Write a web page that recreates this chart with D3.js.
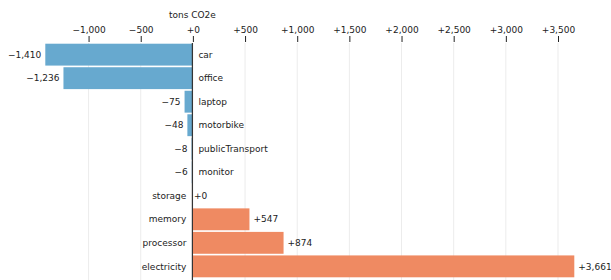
<!DOCTYPE html>
<html>
<head>
<meta charset="utf-8">
<script src="https://cdn.jsdelivr.net/npm/d3@7"></script>
<style>
  body { margin: 0; background: #fff; }
  svg { font-family: "DejaVu Sans", sans-serif; font-size: 9px; }
</style>
</head>
<body>
<div id="chart"></div>
<script>
// Données
const categories = ["car", "office", "laptop", "motorbike", "publicTransport", "monitor", "storage", "memory", "processor", "electricity"];
const values = [-1410, -1236, -75, -48, -8, -6, 0, 547, 874, 3661];
const tickValues = [-1000, -500, 0, 500, 1000, 1500, 2000, 2500, 3000, 3500];

const rows = categories.map((c, i) => ({ name: c, value: values[i] }));

const width = 611, height = 280;

const x = d3.scaleLinear()
    .domain([d3.min(values), d3.max(values)])
    .range([45.3, 574.3]);

const y = d3.scaleBand()
    .domain(categories)
    .range([43, 278])
    .paddingInner(0.07)
    .paddingOuter(0.03);

const fmt = d3.format("+,d");

const svg = d3.select("#chart")
    .append("svg")
    .attr("width", width)
    .attr("height", height);

// grille
svg.append("g")
    .selectAll("line")
    .data(tickValues)
    .join("line")
    .attr("x1", d => x(d) + 0.5)
    .attr("x2", d => x(d) + 0.5)
    .attr("y1", 43)
    .attr("y2", height)
    .attr("stroke", "#000")
    .attr("stroke-opacity", 0.08);

// axe du haut
const axis = svg.append("g")
    .attr("transform", "translate(0.5,42)")
    .call(d3.axisTop(x).tickValues(tickValues).tickFormat(fmt).tickSize(6).tickPadding(3));
axis.select(".domain").remove();
axis.selectAll("text").attr("font-size", 9).attr("font-family", "DejaVu Sans, sans-serif").attr("fill", "#222");
axis.selectAll("line").attr("stroke", "#222");

svg.append("text")
    .attr("x", x(0))
    .attr("y", 18)
    .attr("text-anchor", "middle")
    .attr("fill", "#222")
    .text("tons CO2e");

// barres
svg.append("g")
    .selectAll("rect")
    .data(rows)
    .join("rect")
    .attr("x", d => x(Math.min(0, d.value)))
    .attr("width", d => Math.abs(x(d.value) - x(0)))
    .attr("y", d => y(d.name))
    .attr("height", y.bandwidth())
    .attr("fill", d => d.value < 0 ? "#67a9cf" : "#ef8a62");

// ligne zéro
svg.append("line")
    .attr("x1", x(0))
    .attr("x2", x(0))
    .attr("y1", 43)
    .attr("y2", height)
    .attr("stroke", "#333")
    .attr("stroke-width", 1.2);

// valeurs (le zéro colle à la ligne)
svg.append("g")
    .selectAll("text")
    .data(rows)
    .join("text")
    .attr("x", d => d.value < 0 ? x(d.value) - 4 : x(d.value) + (d.value === 0 ? 1.5 : 4))
    .attr("y", d => y(d.name) + y.bandwidth() / 2)
    .attr("dy", "0.35em")
    .attr("text-anchor", d => d.value < 0 ? "end" : "start")
    .attr("fill", "#222")
    .text(d => fmt(d.value).replace("-", "−"));

// noms des catégories
svg.append("g")
    .selectAll("text")
    .data(rows)
    .join("text")
    .attr("x", d => d.value < 0 ? x(0) + 6 : x(0) - 6)
    .attr("y", d => y(d.name) + y.bandwidth() / 2)
    .attr("dy", "0.35em")
    .attr("text-anchor", d => d.value < 0 ? "start" : "end")
    .attr("fill", "#222")
    .text(d => d.name);
</script>
</body>
</html>
